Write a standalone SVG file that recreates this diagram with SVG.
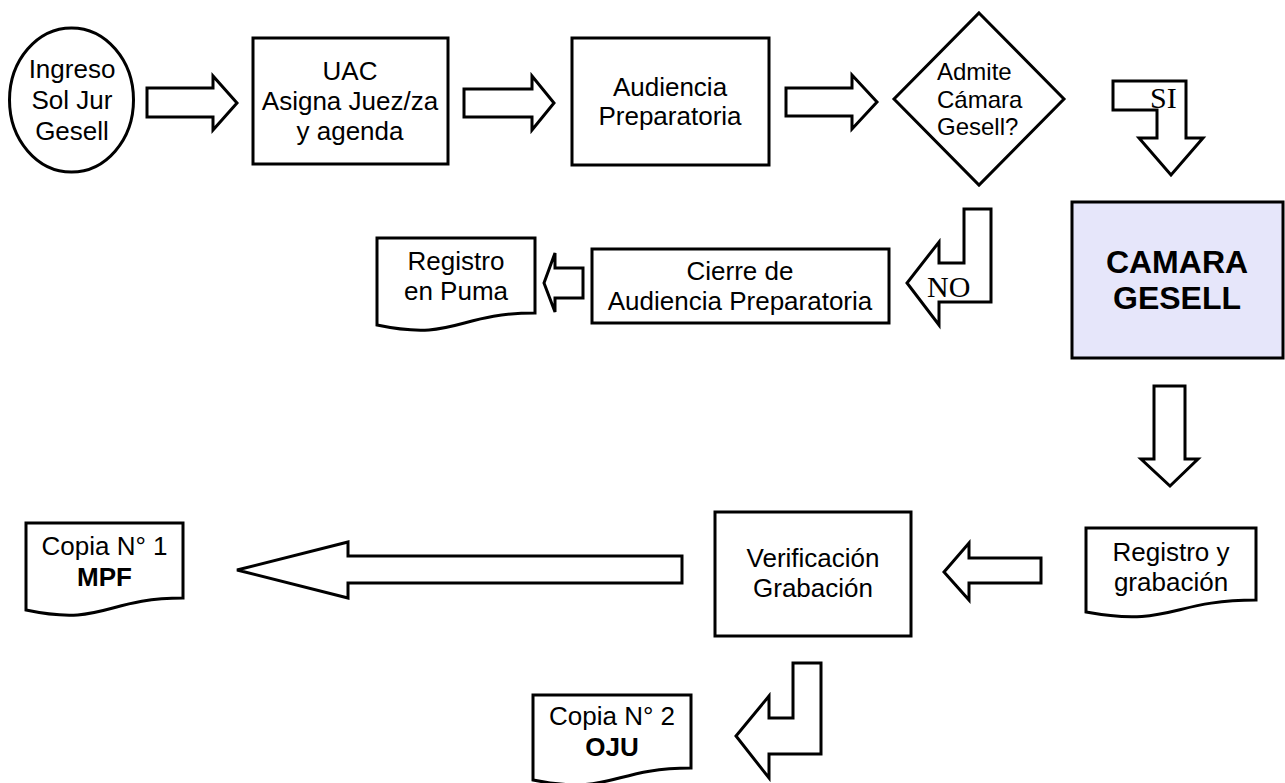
<svg xmlns="http://www.w3.org/2000/svg" width="1285" height="783" viewBox="0 0 1285 783">
<style>
.s{fill:#fff;stroke:#000;stroke-width:3;stroke-linejoin:miter}
.cam{fill:#E6E6FA;stroke:#000;stroke-width:3}
.t{font-family:"Liberation Sans",Arial,sans-serif;font-size:26px;text-anchor:middle;fill:#000}
.d{font-family:"Liberation Sans",Arial,sans-serif;font-size:24px;fill:#000}
.b{font-weight:bold}
.sr{font-family:"Liberation Serif","Times New Roman",serif;font-size:30px;fill:#000}
</style>
<rect width="1285" height="783" fill="#fff"/>
<g id="connectors">
<path class="s" d="M147,88 H213 V76 L237,103 L213,130 V117 H147 Z"/>
<path class="s" d="M464,89 H532 V76 L554,103 L532,130 V117 H464 Z"/>
<path class="s" d="M786,88 H852 V75 L877,102 L852,129 V116 H786 Z"/>
<g id="si">
<path class="s" d="M1113,81 H1186 V138 H1203 L1171,175 L1139,138 H1157 V110 H1113 Z"/>
<text class="sr" x="1150" y="108">SI</text>
</g>
<g id="no">
<path class="s" d="M964,209 H991 V302 H939 V325 L907,283 L939,242 V263 H964 Z"/>
<text class="sr" x="927" y="297">NO</text>
</g>
<path class="s" d="M583,268 H555 V253 L544,283 L555,312 V298 H583 Z"/>
<path class="s" d="M1154,386 H1185 V459 H1198 L1170,486 L1141,459 H1154 Z"/>
<path class="s" d="M1041,558 H969 V543 L944,572 L969,600 V583 H1041 Z"/>
<path class="s" d="M682,556 H348 V542 L237,570 L348,598 V583 H682 Z"/>
<path class="s" d="M793,663 H821 V754 H769 V778 L736,736 L769,696 V718 H793 Z"/>
</g>
<g id="ingreso">
<ellipse class="s" cx="71.5" cy="100" rx="62" ry="72"/>
<text class="t" x="72" y="78">Ingreso</text>
<text class="t" x="72" y="109">Sol Jur</text>
<text class="t" x="72" y="140">Gesell</text>
</g>
<g id="uac">
<rect class="s" x="253" y="38" width="195" height="126"/>
<text class="t" x="350" y="80">UAC</text>
<text class="t" x="350" y="110">Asigna Juez/za</text>
<text class="t" x="350" y="140">y agenda</text>
</g>
<g id="audiencia">
<rect class="s" x="572" y="38" width="197" height="127"/>
<text class="t" x="670" y="96">Audiencia</text>
<text class="t" x="670" y="125">Preparatoria</text>
</g>
<g id="admite">
<path class="s" d="M979,13 L1064,99 L979,185 L894,99 Z"/>
<text class="d" x="937" y="80">Admite</text>
<text class="d" x="937" y="108">Cámara</text>
<text class="d" x="937" y="135">Gesell?</text>
</g>
<g id="camara">
<rect class="cam" x="1072" y="202" width="211" height="156"/>
<text class="t b" x="1177" y="273" style="font-size:32px">CAMARA</text>
<text class="t b" x="1177" y="309" style="font-size:32px">GESELL</text>
</g>
<g id="cierre">
<rect class="s" x="592" y="249" width="297" height="74"/>
<text class="t" x="740" y="280">Cierre de</text>
<text class="t" x="740" y="310">Audiencia Preparatoria</text>
</g>
<g id="registro-puma">
<path class="s" d="M377,238 H535 V313 C456,313 456,341.6 377,325 Z"/>
<text class="t" x="456" y="270">Registro</text>
<text class="t" x="456" y="300">en Puma</text>
</g>
<g id="registro-grabacion">
<path class="s" d="M1086,528 H1256 V600 C1171,600 1171,627.5 1086,612 Z"/>
<text class="t" x="1171" y="561">Registro y</text>
<text class="t" x="1171" y="591">grabación</text>
</g>
<g id="verificacion">
<rect class="s" x="715" y="512" width="196" height="124"/>
<text class="t" x="813" y="567">Verificación</text>
<text class="t" x="813" y="597">Grabación</text>
</g>
<g id="copia1">
<path class="s" d="M26,523 H183 V598 C104.5,598 104.5,626.6 26,610 Z"/>
<text class="t" x="104.5" y="555">Copia N° 1</text>
<text class="t b" x="104.5" y="586">MPF</text>
</g>
<g id="copia2">
<path class="s" d="M533,695 H691 V768 C612,768 612,795.8 533,780 Z"/>
<text class="t" x="612" y="725">Copia N° 2</text>
<text class="t b" x="612" y="756">OJU</text>
</g>
</svg>
